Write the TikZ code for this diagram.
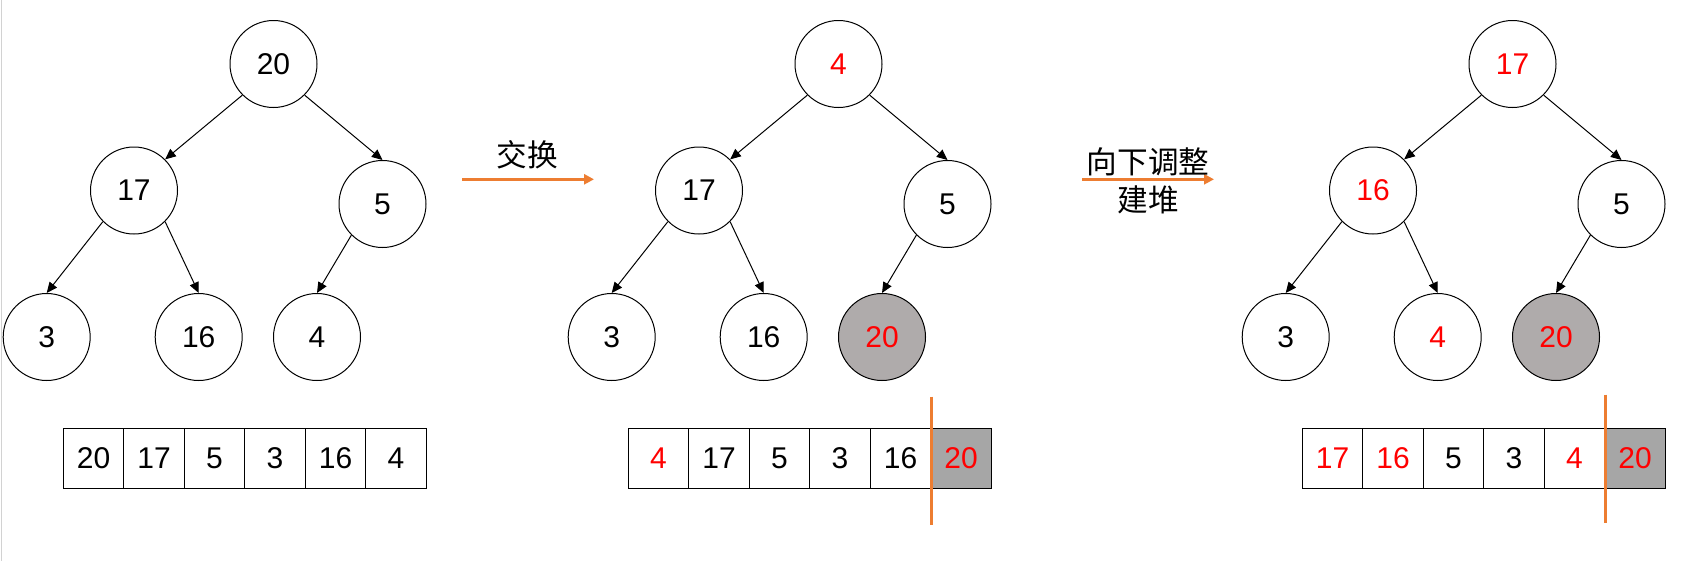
\documentclass[tikz,border=0pt]{standalone}
\usepackage{fontspec}
\setmainfont{Liberation Sans}
\newfontfamily\cjk{Noto Sans CJK SC}
\usetikzlibrary{arrows.meta,calc}
\definecolor{ppOrange}{RGB}{237,125,49}
\definecolor{nodeGray}{RGB}{175,171,171}
\definecolor{cellGray}{RGB}{166,166,166}
\definecolor{hlRed}{RGB}{255,0,0}
\definecolor{edgeGray}{RGB}{210,210,210}
\begin{document}
\begin{tikzpicture}[x=0.75pt,y=-0.75pt,
  hnode/.style={circle,draw,line width=0.75pt,minimum size=65.25pt,inner sep=0pt,font=\fontsize{22.5}{27}\selectfont},
  done/.style={fill=nodeGray},
  hot/.style={text=hlRed},
  tedge/.style={-{Triangle[length=8pt,width=7pt]},line width=0.75pt},
  cell/.style={draw,line width=1pt,minimum width=45.375pt,minimum height=45pt,inner sep=0pt,font=\fontsize{22.5}{27}\selectfont},
  grey cell/.style={cell,fill=cellGray},
  bigarrow/.style={ppOrange,line width=2.25pt,-{Triangle[length=7.5pt,width=7.5pt]}},
  sepline/.style={ppOrange,line width=2.25pt},
  cjklabel/.style={font=\cjk\fontsize{23}{28.5}\selectfont,align=center,inner sep=0pt}
]
\useasboundingbox (0,0) rectangle (1702,561);
\fill[white] (0,0) rectangle (1702,561);
\draw[edgeGray,line width=0.75pt] (1,0) -- (1,561);

% ---------- Stage 1 ----------
\node[hnode] (ar) at (273.5,64) {20};
\node[hnode] (aa) at (134,190.5) {17};
\node[hnode] (ab) at (382.5,204) {5};
\node[hnode] (ac) at (46.7,337) {3};
\node[hnode] (ad) at (198.7,337) {16};
\node[hnode] (ae) at (317,337) {4};
\draw[tedge] (ar.south west) -- (aa.north east);
\draw[tedge] (ar.south east) -- (ab.north);
\draw[tedge] (aa.south west) -- (ac.north);
\draw[tedge] (aa.south east) -- (ad.north);
\draw[tedge] (ab.south west) -- (ae.north);
\node[cell] (a1) at (93.55,458.3) {20};
\node[cell] (a2) at (154.05,458.3) {17};
\node[cell] (a3) at (214.55,458.3) {5};
\node[cell] (a4) at (275.05,458.3) {3};
\node[cell] (a5) at (335.55,458.3) {16};
\node[cell] (a6) at (396.05,458.3) {4};

% arrow 1
\coordinate (p1s) at (462,179.3);
\coordinate (p1e) at (594,179.3);
\draw[bigarrow] (p1s) -- (p1e);
\node[cjklabel] (l1) at (527,155) {交换};

% ---------- Stage 2 ----------
\begin{scope}[shift={(565,0)}]
\node[hnode,hot] (br) at (273.5,64) {4};
\node[hnode] (ba) at (134,190.5) {17};
\node[hnode] (bb) at (382.5,204) {5};
\node[hnode] (bc) at (46.7,337) {3};
\node[hnode] (bd) at (198.7,337) {16};
\node[hnode,done,hot] (be) at (317,337) {20};
\draw[tedge] (br.south west) -- (ba.north east);
\draw[tedge] (br.south east) -- (bb.north);
\draw[tedge] (ba.south west) -- (bc.north);
\draw[tedge] (ba.south east) -- (bd.north);
\draw[tedge] (bb.south west) -- (be.north);
\node[cell,hot] (b1) at (93.55,458.3) {4};
\node[cell] (b2) at (154.05,458.3) {17};
\node[cell] (b3) at (214.55,458.3) {5};
\node[cell] (b4) at (275.05,458.3) {3};
\node[cell] (b5) at (335.55,458.3) {16};
\node[grey cell,hot] (b6) at (396.05,458.3) {20};
\coordinate (s2t) at ($(b5.north east)+(0,-31)$);
\coordinate (s2b) at ($(b5.south east)+(0,36)$);
\draw[sepline] (s2t) -- (s2b);
\end{scope}

% arrow 2
\coordinate (p2s) at (1082,179.3);
\coordinate (p2e) at (1214,179.3);
\draw[bigarrow] (p2s) -- (p2e);
\node[cjklabel] (l2) at (1148,181) {向下调整\\建堆};

% ---------- Stage 3 ----------
\begin{scope}[shift={(1239,0)}]
\node[hnode,hot] (cr) at (273.5,64) {17};
\node[hnode,hot] (ca) at (134,190.5) {16};
\node[hnode] (cb) at (382.5,204) {5};
\node[hnode] (cc) at (46.7,337) {3};
\node[hnode,hot] (cd) at (198.7,337) {4};
\node[hnode,done,hot] (ce) at (317,337) {20};
\draw[tedge] (cr.south west) -- (ca.north east);
\draw[tedge] (cr.south east) -- (cb.north);
\draw[tedge] (ca.south west) -- (cc.north);
\draw[tedge] (ca.south east) -- (cd.north);
\draw[tedge] (cb.south west) -- (ce.north);
\node[cell,hot] (c1) at (93.55,458.3) {17};
\node[cell,hot] (c2) at (154.05,458.3) {16};
\node[cell] (c3) at (214.55,458.3) {5};
\node[cell] (c4) at (275.05,458.3) {3};
\node[cell,hot] (c5) at (335.55,458.3) {4};
\node[grey cell,hot] (c6) at (396.05,458.3) {20};
\coordinate (s3t) at ($(c5.north east)+(0,-33)$);
\coordinate (s3b) at ($(c5.south east)+(0,34)$);
\draw[sepline] (s3t) -- (s3b);
\end{scope}
\end{tikzpicture}
\end{document}
